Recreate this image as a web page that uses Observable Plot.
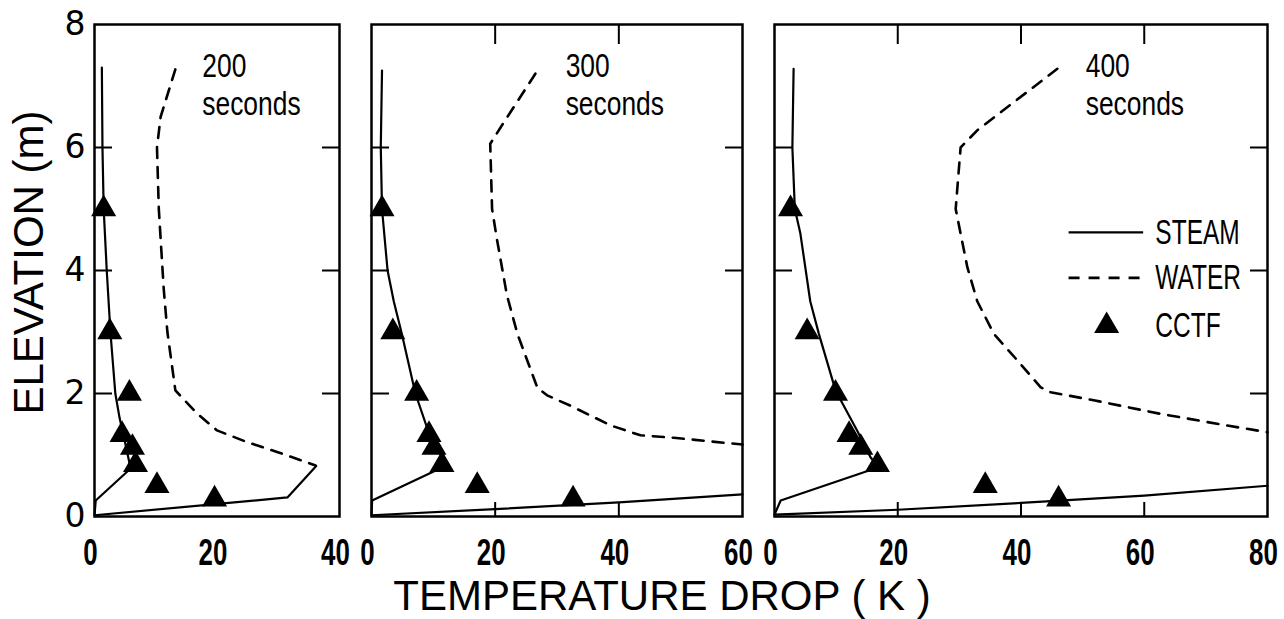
<!DOCTYPE html>
<html><head><meta charset="utf-8">
<script src="https://cdn.jsdelivr.net/npm/d3@7"></script>
<script src="https://cdn.jsdelivr.net/npm/@observablehq/plot@0.6"></script>
<style>
html,body{margin:0;padding:0;background:#fff;}
body{width:1284px;height:619px;position:relative;}
.panel{position:absolute;top:0;}
.panel svg{background:transparent !important;overflow:visible;}
#xtitle{position:absolute;left:662px;top:578px;transform:translateX(-50%);white-space:pre;
  font-family:"Liberation Sans",Arial,sans-serif;font-size:42px;line-height:36px;color:#000;}
</style></head><body>
<div id="p1" class="panel" style="left:0px"></div>
<div id="p2" class="panel" style="left:355px"></div>
<div id="p3" class="panel" style="left:758px"></div>
<div id="xtitle">TEMPERATURE DROP ( K )</div>
<script>
// ---- data (temperature drop in K, elevation in m) ----
const times = ["200", "300", "400"];
const xMax = [40, 60, 80];
const xTicks = [[0, 20, 40], [0, 20, 40, 60], [0, 20, 40, 60, 80]];
const yTicks = [0, 2, 4, 6, 8];

const cctfZ   = [5.0, 3.0, 2.0, 1.33, 1.12, 0.84, 0.5, 0.28];
const cctf200 = [1.5, 2.5, 5.7, 4.5, 6.2, 6.7, 10.2, 19.6];
const cctf300 = [1.7, 3.45, 7.3, 9.3, 10.1, 11.4, 17.1, 32.6];
const cctf400 = [2.6, 5.3, 9.9, 12.1, 14.0, 16.7, 34.2, 46.1];

const steam200T = [1.2, 1.3, 1.5, 2.0, 2.6, 3.4, 4.1, 5.0, 5.9, 0.2, 0, 31.5, 36.2];
const steam200Z = [7.3, 6.0, 5.0, 4.0, 3.0, 2.0, 1.6, 1.2, 0.78, 0.26, 0.02, 0.31, 0.82];
const steam300T = [1.7, 1.5, 1.7, 2.6, 3.6, 4.9, 7.1, 9.3, 11.2, 11.5, 0.1, 0, 20, 40, 60];
const steam300Z = [7.25, 6.0, 5.0, 4.0, 3.5, 2.97, 2.0, 1.35, 1.0, 0.8, 0.26, 0.02, 0.12, 0.23, 0.36];
const steam400T = [3.1, 2.9, 3.3, 4.2, 5.8, 7.2, 9.9, 13.4, 15.6, 16.9, 1.0, 0, 20, 40, 60, 80];
const steam400Z = [7.28, 6.0, 5.0, 4.6, 3.5, 2.97, 2.05, 1.4, 0.96, 0.8, 0.26, 0.03, 0.11, 0.22, 0.34, 0.5];

const water200T = [13.2, 10.8, 10.2, 10.5, 11.3, 11.9, 13.2, 16.8, 20.0, 24.9, 29.8, 36.1];
const water200Z = [7.27, 6.5, 6.0, 5.0, 3.7, 3.0, 2.05, 1.67, 1.4, 1.21, 1.05, 0.83];
const water300T = [26.5, 20.9, 19.2, 19.5, 20.3, 21.9, 23.6, 25.4, 26.8, 28.4, 32.2, 38.7, 43.5, 48.9, 60];
const water300Z = [7.2, 6.33, 6.06, 5.0, 4.5, 3.6, 2.97, 2.48, 2.1, 1.97, 1.8, 1.48, 1.32, 1.28, 1.17];
const water400T = [45.9, 32.9, 30.2, 29.4, 30.2, 31.3, 32.9, 35.6, 39.4, 43.2, 44.8, 51.8, 62.6, 73.4, 80];
const water400Z = [7.28, 6.28, 6.0, 5.0, 4.6, 4.05, 3.5, 2.97, 2.54, 2.1, 2.02, 1.89, 1.67, 1.48, 1.37];

// time-label anchor (K) and legend entries
const timeLabelT = [17.6, 31.4, 50.5];
const legendNames = ["STEAM", "WATER", "CCTF"];

// ---- build ----
const zip = (T, Z) => T.map((t, i) => ({t, z: Z[i]}));
const steams = [zip(steam200T, steam200Z), zip(steam300T, steam300Z), zip(steam400T, steam400Z)];
const waters = [zip(water200T, water200Z), zip(water300T, water300Z), zip(water400T, water400Z)];
const cctfs  = [zip(cctf200, cctfZ), zip(cctf300, cctfZ), zip(cctf400, cctfZ)];

const SANS = "'Liberation Sans',Arial,sans-serif";
const layout = [
  {el: "p1", width: 355, ml: 94, mr: 16},
  {el: "p2", width: 403, ml: 16, mr: 16},
  {el: "p3", width: 526, ml: 16, mr: 17}
];

// horizontally condense a set of text elements (lettering in the original is condensed)
function condense(nodes, s) {
  nodes.forEach(t => {
    const tr = t.getAttribute("transform");
    if (tr) t.setAttribute("transform", tr + ` scale(${s},1)`);
    else {
      const x = +t.getAttribute("x") || 0, y = +t.getAttribute("y") || 0;
      t.setAttribute("transform", `translate(${x},${y}) scale(${s},1) translate(${-x},${-y})`);
    }
  });
}

layout.forEach((L, k) => {
  const inner = xTicks[k].filter(v => v > 0 && v < xMax[k]);
  const marks = [
    Plot.line(steams[k], {x: "t", y: "z", stroke: "black", strokeWidth: 2.2}),
    Plot.line(waters[k], {x: "t", y: "z", stroke: "black", strokeWidth: 2.6, strokeDasharray: "11,9"}),
    Plot.dot(cctfs[k], {x: "t", y: "z", symbol: "triangle", r: 9.3, fill: "black"}),
    Plot.frame({stroke: "black", strokeWidth: 2.5}),
    // inward ticks
    Plot.axisY({anchor: "left", ticks: [2, 4, 6], tickSize: -18, tickFormat: () => "", label: null, strokeWidth: 2}),
    Plot.axisY({anchor: "right", ticks: [2, 4, 6], tickSize: -18, tickFormat: () => "", label: null, strokeWidth: 2}),
    // x tick labels
    Plot.axisX({anchor: "bottom", ticks: xTicks[k], tickSize: 0, tickPadding: 22, dx: -4, label: null,
      fontSize: 37, fontFamily: SANS, fontWeight: "bold", ariaDescription: "narrow-tick"}),
    // time label
    Plot.text([times[k]], {x: () => timeLabelT[k], y: () => 7.14, text: d => d, textAnchor: "start",
      lineAnchor: "bottom", fontSize: 33, fontFamily: SANS, ariaDescription: "narrow-label"}),
    Plot.text(["seconds"], {x: () => timeLabelT[k], y: () => 6.53, text: d => d, textAnchor: "start",
      lineAnchor: "bottom", fontSize: 33, fontFamily: SANS, ariaDescription: "narrow-label"})
  ];
  if (k > 0) {
    marks.push(Plot.axisX({anchor: "bottom", ticks: inner, tickSize: -14, tickFormat: () => "", label: null, strokeWidth: 2}));
    marks.push(Plot.axisX({anchor: "top", ticks: inner, tickSize: -19, tickFormat: () => "", label: null, strokeWidth: 2}));
  }
  if (k === 0) {
    marks.push(Plot.axisY({anchor: "left", ticks: yTicks, tickSize: 0, tickPadding: 9, label: null,
      fontSize: 33, fontFamily: "'DejaVu Sans',sans-serif"}));
    marks.push(Plot.text(["ELEVATION (m)"], {frameAnchor: "left", dx: -65, dy: -8, rotate: -90,
      text: d => d, textAnchor: "middle", lineAnchor: "middle", fontSize: 42, fontFamily: SANS}));
  }
  if (k === 2) {
    const legY = [4.62, 3.88, 3.1];
    marks.push(Plot.ruleY([legY[0]], {y: d => d, x1: 47.8, x2: 59.9, stroke: "black", strokeWidth: 2.2}));
    marks.push(Plot.ruleY([legY[1]], {y: d => d, x1: 47.8, x2: 59.9, stroke: "black", strokeWidth: 2.6, strokeDasharray: "11,9"}));
    marks.push(Plot.dot([legY[2]], {x: () => 53.9, y: d => d, symbol: "triangle", r: 9.3, fill: "black"}));
    marks.push(Plot.text(legendNames, {x: () => 61.8, y: (d, i) => legY[i], text: d => d, textAnchor: "start",
      lineAnchor: "middle", fontSize: 35, fontFamily: SANS, ariaDescription: "narrow-legend"}));
  }
  const chart = Plot.plot({
    width: L.width, height: 619,
    marginLeft: L.ml, marginRight: L.mr, marginTop: 24, marginBottom: 103,
    x: {domain: [0, xMax[k]], axis: null},
    y: {domain: [0, 8], axis: null},
    style: {background: "transparent", color: "black", overflow: "visible"},
    marks
  });
  condense(chart.querySelectorAll('[aria-description="narrow-tick"] text'), 0.7);
  condense(chart.querySelectorAll('[aria-description="narrow-label"] text'), 0.8);
  condense(chart.querySelectorAll('[aria-description="narrow-legend"] text'), 0.7);
  document.getElementById(L.el).appendChild(chart);
});
</script>
</body></html>
